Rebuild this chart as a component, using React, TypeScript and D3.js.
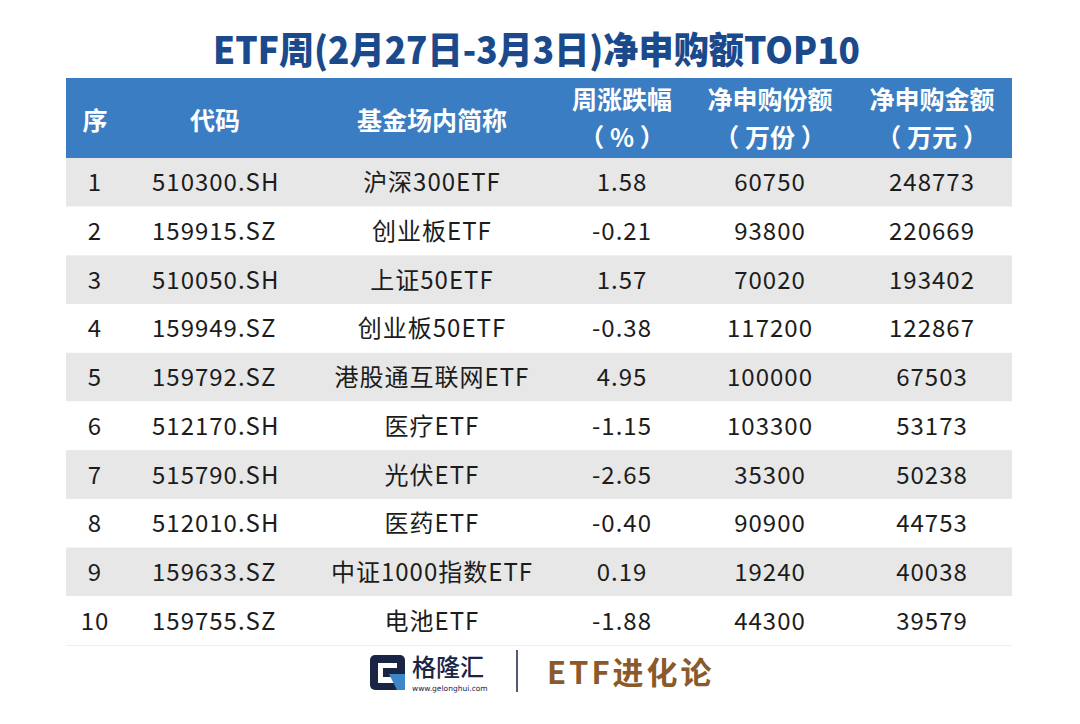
import React from "react";
import * as d3 from "d3";

const title = "ETF周(2月27日-3月3日)净申购额TOP10";
const ranks = ["1", "2", "3", "4", "5", "6", "7", "8", "9", "10"];
const codes = ["510300.SH", "159915.SZ", "510050.SH", "159949.SZ", "159792.SZ", "512170.SH", "515790.SH", "512010.SH", "159633.SZ", "159755.SZ"];
const names = ["沪深300ETF", "创业板ETF", "上证50ETF", "创业板50ETF", "港股通互联网ETF", "医疗ETF", "光伏ETF", "医药ETF", "中证1000指数ETF", "电池ETF"];
const changes = ["1.58", "-0.21", "1.57", "-0.38", "4.95", "-1.15", "-2.65", "-0.40", "0.19", "-1.88"];
const shares = [60750, 93800, 70020, 117200, 100000, 103300, 35300, 90900, 19240, 44300];
const amounts = [248773, 220669, 193402, 122867, 67503, 53173, 50238, 44753, 40038, 39579];
const headers: string[][] = [["序"], ["代码"], ["基金场内简称"], ["周涨跌幅", "（ % ）"], ["净申购份额", "（ 万份 ）"], ["净申购金额", "（ 万元 ）"]];

const colKeys = ["rank", "code", "name", "chg", "share", "amt"];
const colCenters = [95, 215, 432, 622, 770, 932];
const dataX = [95, 152, 432, 622, 770, 932];
const dataAnchor = ["middle", "start", "middle", "middle", "middle", "middle"];

const W = 1080, H = 724;
const tableL = 66, tableR = 1012;
const headTop = 78, headBot = 158;
const rowsBot = 645;
const FONT = "'Noto Sans CJK SC', 'Noto Sans', sans-serif";

export default function App() {
  const y = d3.scaleBand<string>().domain(ranks).range([headBot, rowsBot]);
  const x = d3.scaleOrdinal<string, number>().domain(colKeys).range(dataX);
  const rows = ranks.map((r, i) => [r, codes[i], names[i], changes[i], String(shares[i]), String(amounts[i])]);
  return (
    <svg width={W} height={H} style={{ position: "absolute", left: 0, top: 0, background: "#fff" }} fontFamily={FONT}>
      <rect x={0} y={0} width={W} height={H} fill="#fff" />
      <text x={213} y={64} fontSize={37} fontWeight={900} fill="#1b4a8c" textLength={647} lengthAdjust="spacingAndGlyphs">{title}</text>
      <rect x={tableL} y={headTop} width={tableR - tableL} height={headBot - headTop} fill="#3b7dc2" />
      {headers.map((h, j) =>
        h.length === 1 ? (
          <text key={j} x={colCenters[j]} y={130} textAnchor="middle" fontSize={25} fontWeight={700} fill="#fff">{h[0]}</text>
        ) : (
          <g key={j}>
            <text x={colCenters[j]} y={109} textAnchor="middle" fontSize={25} fontWeight={700} fill="#fff">{h[0]}</text>
            <text x={colCenters[j]} y={147} textAnchor="middle" fontSize={25} fontWeight={700} fill="#fff">{h[1]}</text>
          </g>
        )
      )}
      {rows.map((row, i) => (
        <g key={i}>
          <rect x={tableL} y={y(ranks[i])!} width={tableR - tableL} height={y.bandwidth()} fill={i % 2 === 0 ? "#e7e7e7" : "#ffffff"} />
          {row.map((v, j) => (
            <text key={j} x={x(colKeys[j])} y={y(ranks[i])! + y.bandwidth() / 2 + 9} textAnchor={dataAnchor[j] as any} fontSize={24} letterSpacing={1} fill="#1c1c1c">{v}</text>
          ))}
        </g>
      ))}
      <line x1={tableL} x2={tableR} y1={rowsBot + 0.5} y2={rowsBot + 0.5} stroke="#eeeeee" />
      {/* footer logo */}
      <g transform="translate(370,655)">
        <rect x={0} y={0} width={35} height={35} rx={5} fill="#1a2546" />
        <path d="M8 8 H27 V13 H13 V22 H27 V28 H8 Z" fill="#ffffff" />
        <path d="M19 19 H35 V35 H27 Z" fill="#3c86c9" />
        <text x={42} y={21} fontSize={24} fontWeight={500} fill="#1a2546">格隆汇</text>
        <text x={42} y={36} fontSize={7.5} fill="#1a2546" fontFamily="'DejaVu Sans', sans-serif">www.gelonghui.com</text>
      </g>
      <line x1={517} x2={517} y1={650} y2={692} stroke="#1a2546" strokeWidth={1.5} />
      <text x={547} y={684} fontSize={31} fontWeight={700} fill="#8b5a2b" letterSpacing={3}>ETF进化论</text>
    </svg>
  );
}
